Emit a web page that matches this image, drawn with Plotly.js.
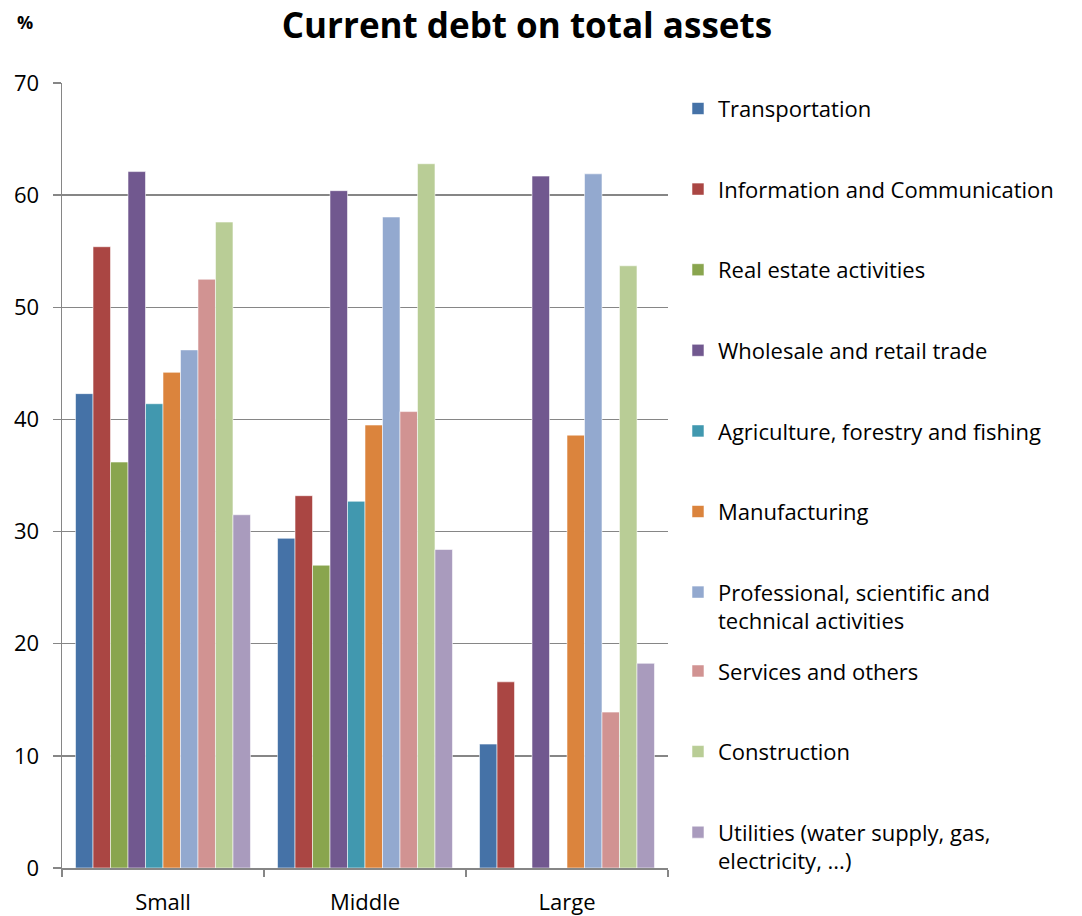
<!DOCTYPE html>
<html>
<head>
<meta charset="utf-8">
<script src="https://cdn.plot.ly/plotly-3.0.1.min.js"></script>
<style>html,body{margin:0;padding:0;background:#fff;}#chart{width:1082px;height:916px;}</style>
</head>
<body>
<div id="chart"></div>
<script>
const categories = ["Small", "Middle", "Large"];
const seriesNames = [
  "Transportation",
  "Information and Communication",
  "Real estate activities",
  "Wholesale and retail trade",
  "Agriculture, forestry and fishing",
  "Manufacturing",
  "Professional, scientific and<br>technical activities",
  "Services and others",
  "Construction",
  "Utilities (water supply, gas,<br>electricity, ...)"
];
const transportation = [42.3, 29.4, 11.05];
const information = [55.4, 33.2, 16.6];
const realEstate = [36.2, 27.0, null];
const wholesale = [62.1, 60.4, 61.7];
const agriculture = [41.4, 32.7, null];
const manufacturing = [44.2, 39.5, 38.6];
const professional = [46.2, 58.05, 61.9];
const services = [52.5, 40.7, 13.9];
const construction = [57.6, 62.8, 53.7];
const utilities = [31.5, 28.4, 18.25];
const yTicks = [0, 10, 20, 30, 40, 50, 60, 70];

const seriesValues = [transportation, information, realEstate, wholesale, agriculture,
  manufacturing, professional, services, construction, utilities];
const colors = ["#4572A7", "#AA4643", "#89A54E", "#71588F", "#4198AF",
  "#DB843D", "#93A9CF", "#D19392", "#B9CD96", "#A99BBD"];

const FONT = "'Open Sans', 'Noto Sans', sans-serif";

const traces = seriesValues.map((vals, i) => ({
  type: "bar",
  name: seriesNames[i],
  x: categories,
  y: vals,
  legendgroup: "g" + i,
  legend: i < 7 ? "legend" : "legend2",
  marker: {color: colors[i], line: {color: "rgba(255,255,255,0.55)", width: 1}},
  hoverinfo: "name+y"
}));

const legendCommon = {
  font: {family: FONT, size: 22, color: "#000"},
  traceorder: "grouped",
  tracegroupgap: 49,
  valign: "top",
  bgcolor: "rgba(0,0,0,0)",
  maxheight: 900,
  xref: "paper", yref: "paper",
  xanchor: "left", yanchor: "top"
};

const layout = {
  width: 1082, height: 916,
  margin: {l: 62, r: 414, t: 83, b: 48},
  paper_bgcolor: "#fff", plot_bgcolor: "#fff",
  font: {family: FONT, size: 22, color: "#000"},
  title: {
    text: "<b>Current debt on total assets</b>",
    font: {family: FONT, size: 35, color: "#000"},
    x: 0.487, xref: "container", xanchor: "center",
    y: 0.972, yref: "container", yanchor: "middle"
  },
  barmode: "group",
  bargap: 0.134,
  bargroupgap: 0,
  xaxis: {
    type: "category",
    showline: true, linecolor: "#868686", linewidth: 1.5,
    ticks: "outside", tickson: "boundaries", ticklen: 7, tickcolor: "#868686", tickwidth: 1.5,
    tickfont: {family: FONT, size: 22, color: "#000"},
    ticklabelstandoff: 14,
    showgrid: false, zeroline: false
  },
  yaxis: {
    range: [0, 70],
    tickvals: yTicks,
    ticktext: yTicks.map(String),
    showline: true, linecolor: "#868686", linewidth: 1.5,
    ticks: "outside", ticklen: 8, tickcolor: "#868686", tickwidth: 1.5,
    tickfont: {family: FONT, size: 22, color: "#000"},
    ticklabelstandoff: 9,
    showgrid: true, gridcolor: "#868686", gridwidth: 1.5,
    zeroline: false
  },
  legend: Object.assign({}, legendCommon, {x: 1.0165, y: 0.994}),
  legend2: Object.assign({}, legendCommon, {x: 1.0165, y: 0.2775}),
  annotations: [{
    text: "<b>%</b>",
    xref: "paper", yref: "paper",
    x: -0.061, y: 1.078,
    xanchor: "center", yanchor: "middle",
    showarrow: false,
    font: {family: FONT, size: 18, color: "#000"}
  }],
  showlegend: true
};

Plotly.newPlot("chart", traces, layout, {displayModeBar: false, staticPlot: true});
</script>
</body>
</html>
